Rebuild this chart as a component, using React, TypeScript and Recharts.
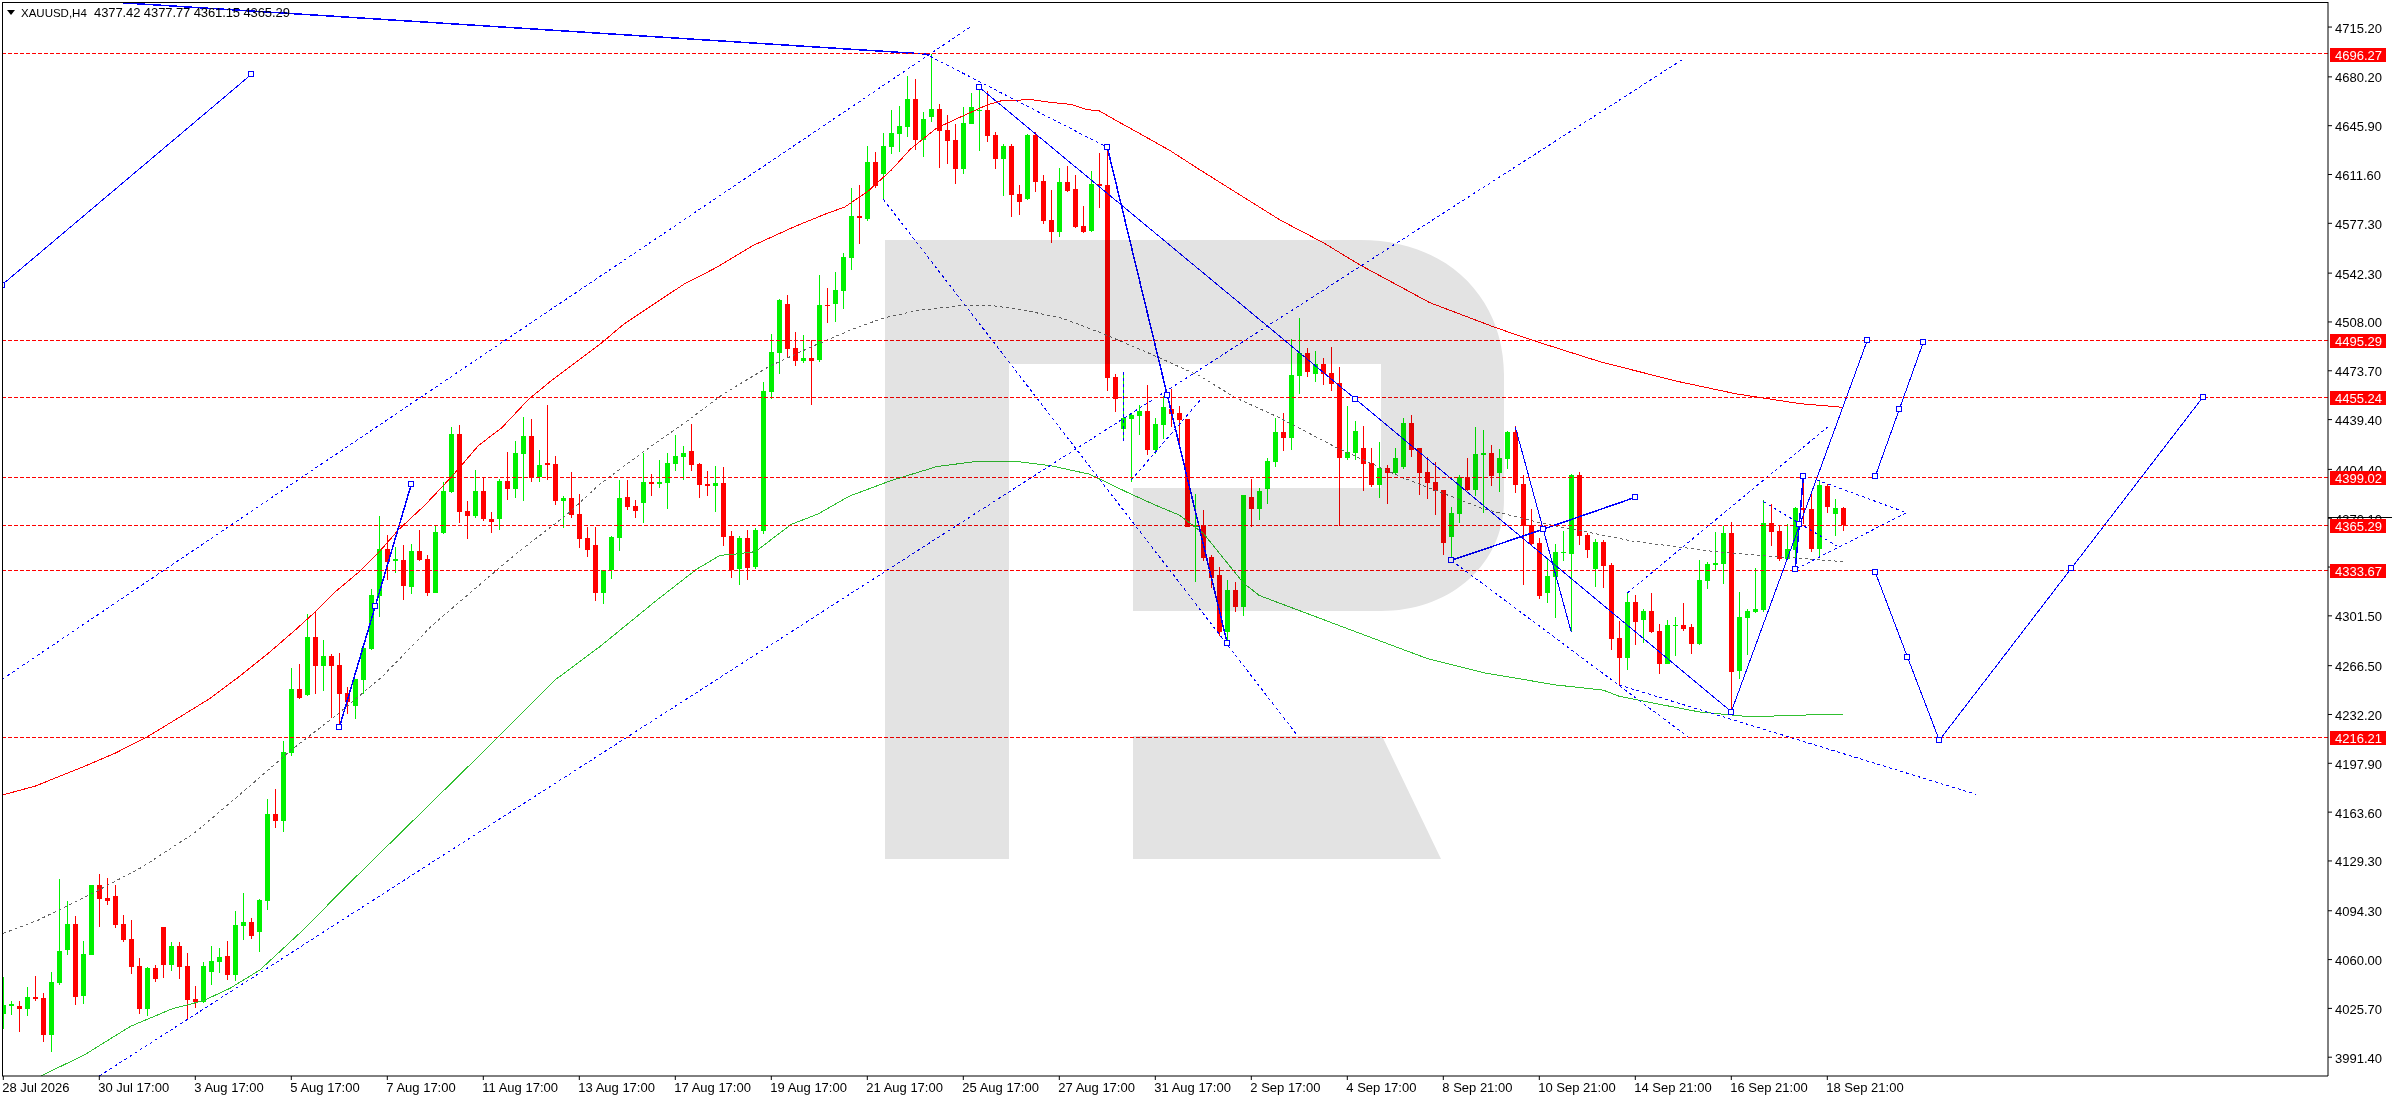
import React from "react";
import { ComposedChart, Bar, Line, XAxis, YAxis, ReferenceLine } from "recharts";

const FONT = "'Liberation Sans', sans-serif";
const BLUE = "#0000ff";
const RED = "#ff0000";
const LIME = "#00f000";

// XAUUSD H4 candles, bar 0 = 28 Jul 2026
const opens = [
  4021.8, 4027.6, 4027.4, 4025.4, 4033.8, 4033.1, 4007.0, 4043.7, 4067.1, 4085.1, 4034.1, 4063.1, 4112.4, 4103.3, 4104.8, 4085.1,
  4074.5, 4055.5, 4025.4, 4054.0, 4082.9, 4056.3, 4069.6, 4055.5, 4032.3, 4030.4, 4051.3, 4058.2, 4062.7, 4049.1, 4083.6, 4086.3,
  4079.4, 4101.1, 4162.2, 4157.3, 4205.1, 4250.2, 4246.2, 4286.7, 4266.2, 4273.3, 4267.0, 4247.2, 4238.1, 4256.4, 4278.3, 4315.5,
  4348.5, 4339.7, 4340.6, 4321.9, 4347.0, 4341.4, 4317.7, 4359.9, 4388.5, 4429.4, 4375.2, 4371.7, 4389.2, 4369.5, 4369.5, 4396.3,
  4390.7, 4415.3, 4427.9, 4398.8, 4408.9, 4408.2, 4382.5, 4384.3, 4373.2, 4356.2, 4351.3, 4317.6, 4333.5, 4356.2, 4385.0, 4378.7,
  4380.8, 4395.6, 4394.1, 4394.9, 4408.2, 4413.1, 4417.3, 4408.2, 4394.2, 4392.7, 4394.9, 4357.6, 4334.2, 4356.2, 4335.6, 4360.9,
  4458.7, 4486.3, 4520.5, 4489.7, 4480.6, 4482.6, 4481.4, 4519.8, 4520.5, 4529.7, 4552.8, 4582.4, 4580.4, 4620.4, 4612.0, 4631.0,
  4640.1, 4645.0, 4664.7, 4635.9, 4651.9, 4657.6, 4642.8, 4635.9, 4615.4, 4647.0, 4655.8, 4656.8, 4639.3, 4622.6, 4631.7, 4597.9,
  4594.5, 4639.3, 4607.0, 4579.4, 4571.3, 4606.3, 4601.4, 4575.5, 4571.6, 4604.8, 4604.3, 4469.6, 4432.8, 4439.8, 4441.9, 4445.4,
  4418.0, 4435.6, 4446.8, 4444.0, 4439.8, 4364.0, 4365.3, 4342.9, 4330.2, 4290.2, 4319.7, 4307.7, 4385.1, 4376.7, 4390.7, 4409.7,
  4430.6, 4426.5, 4470.1, 4486.1, 4471.3, 4478.5, 4472.1, 4465.2, 4412.4, 4415.9, 4419.6, 4409.0, 4393.4, 4405.5, 4401.8, 4406.0,
  4437.1, 4419.6, 4402.6, 4395.7, 4390.0, 4357.0, 4373.0, 4399.1, 4390.0, 4414.6, 4415.9, 4401.8, 4411.7, 4430.6, 4394.2, 4365.6,
  4352.8, 4317.5, 4328.9, 4345.6, 4345.6, 4400.8, 4358.5, 4334.5, 4353.5, 4337.3, 4286.0, 4271.9, 4311.1, 4298.6, 4304.9, 4290.9,
  4267.8, 4294.4, 4295.1, 4293.6, 4281.8, 4326.0, 4337.2, 4337.9, 4359.7, 4262.8, 4300.0, 4304.2, 4305.6, 4366.7, 4361.1, 4341.4,
  4347.8, 4377.3, 4376.6, 4348.5, 4392.7, 4373.1, 4377.42,
];
const highs = [
  4047.9, 4030.6, 4030.6, 4040.7, 4048.6, 4036.5, 4051.3, 4116.6, 4101.1, 4090.5, 4073.0, 4112.6, 4120.1, 4117.4, 4112.4, 4091.2,
  4087.8, 4061.2, 4054.8, 4056.3, 4082.9, 4072.3, 4072.3, 4064.6, 4041.5, 4058.2, 4069.6, 4068.1, 4073.0, 4094.2, 4106.8, 4089.3,
  4102.6, 4172.8, 4180.0, 4213.5, 4265.2, 4267.7, 4302.9, 4304.4, 4284.4, 4274.8, 4275.3, 4251.4, 4257.1, 4279.0, 4320.2, 4371.7,
  4358.4, 4350.0, 4351.0, 4351.7, 4362.1, 4344.0, 4364.8, 4395.3, 4434.3, 4435.5, 4382.3, 4404.0, 4399.1, 4374.4, 4397.8, 4416.3,
  4424.4, 4441.2, 4439.5, 4418.0, 4449.6, 4413.8, 4385.7, 4402.7, 4387.2, 4363.8, 4364.2, 4334.0, 4357.6, 4397.3, 4397.3, 4382.9,
  4416.0, 4401.0, 4411.1, 4416.0, 4428.6, 4420.5, 4436.3, 4408.9, 4403.2, 4406.7, 4406.2, 4361.1, 4357.6, 4361.8, 4363.0, 4465.6,
  4499.6, 4524.2, 4526.9, 4500.8, 4498.8, 4495.6, 4541.0, 4531.9, 4543.2, 4556.3, 4602.1, 4604.3, 4631.7, 4627.5, 4640.8, 4656.8,
  4659.8, 4680.7, 4678.8, 4655.6, 4696.27, 4661.3, 4653.4, 4647.2, 4659.0, 4668.9, 4673.8, 4670.1, 4641.5, 4633.2, 4632.9, 4604.3,
  4640.0, 4641.8, 4611.2, 4600.6, 4616.2, 4617.9, 4611.2, 4589.5, 4613.9, 4626.8, 4630.7, 4471.4, 4472.4, 4443.8, 4449.7, 4463.7,
  4440.5, 4456.0, 4460.9, 4449.0, 4439.8, 4387.1, 4375.9, 4344.3, 4335.8, 4326.7, 4325.3, 4386.1, 4397.9, 4391.0, 4412.4, 4440.5,
  4444.0, 4495.7, 4510.8, 4489.6, 4487.6, 4482.7, 4490.3, 4476.3, 4448.9, 4438.3, 4434.8, 4419.6, 4423.8, 4407.5, 4419.6, 4440.5,
  4442.7, 4419.6, 4413.2, 4409.7, 4390.0, 4377.9, 4400.8, 4412.4, 4434.1, 4432.1, 4421.5, 4418.8, 4431.4, 4434.8, 4400.6, 4376.7,
  4356.2, 4341.7, 4352.0, 4361.2, 4401.3, 4402.6, 4359.7, 4355.5, 4354.7, 4338.7, 4297.8, 4317.5, 4316.0, 4306.4, 4317.5, 4295.6,
  4298.6, 4300.8, 4310.6, 4295.6, 4340.7, 4339.5, 4360.4, 4364.6, 4367.4, 4318.3, 4306.4, 4335.1, 4382.9, 4380.1, 4365.3, 4366.0,
  4378.0, 4397.0, 4387.6, 4397.0, 4394.1, 4383.6, 4377.77,
];
const lows = [
  4011.4, 4021.0, 4009.4, 4020.5, 4031.1, 4002.0, 3995.4, 4042.2, 4063.1, 4028.4, 4029.1, 4062.9, 4082.9, 4098.4, 4081.9, 4072.0,
  4049.8, 4022.0, 4020.3, 4044.4, 4047.1, 4052.3, 4046.4, 4018.5, 4026.2, 4029.6, 4042.2, 4050.6, 4045.7, 4044.9, 4073.7, 4074.5,
  4065.4, 4094.9, 4152.4, 4149.6, 4203.1, 4242.8, 4245.5, 4246.5, 4248.7, 4229.7, 4224.6, 4232.4, 4229.0, 4246.5, 4277.5, 4300.7,
  4326.8, 4331.8, 4312.5, 4317.0, 4340.1, 4315.7, 4317.5, 4359.1, 4387.7, 4367.0, 4355.4, 4370.2, 4368.2, 4359.6, 4362.1, 4383.0,
  4384.3, 4382.5, 4395.8, 4395.8, 4397.3, 4379.3, 4363.3, 4370.2, 4349.0, 4342.9, 4311.6, 4310.0, 4327.6, 4347.3, 4375.9, 4370.3,
  4366.7, 4385.7, 4391.3, 4376.6, 4403.2, 4397.3, 4403.2, 4384.3, 4385.7, 4374.5, 4350.6, 4328.1, 4323.2, 4326.7, 4334.2, 4359.1,
  4453.8, 4471.5, 4483.3, 4477.2, 4479.1, 4449.6, 4479.9, 4507.5, 4508.2, 4517.1, 4544.4, 4562.7, 4578.9, 4602.1, 4594.2, 4626.3,
  4627.5, 4637.8, 4628.7, 4624.1, 4648.4, 4616.2, 4618.9, 4604.6, 4612.0, 4647.0, 4628.2, 4634.4, 4615.4, 4596.7, 4581.7, 4583.1,
  4593.7, 4599.4, 4576.5, 4563.7, 4567.6, 4599.2, 4573.8, 4570.6, 4571.3, 4587.8, 4459.7, 4444.7, 4425.1, 4395.8, 4428.6, 4414.5,
  4415.2, 4425.8, 4434.2, 4421.6, 4364.0, 4325.3, 4340.0, 4321.1, 4287.4, 4283.4, 4304.2, 4301.5, 4363.6, 4369.1, 4380.1, 4405.8,
  4417.4, 4418.1, 4457.3, 4469.6, 4465.9, 4463.7, 4459.5, 4364.9, 4410.9, 4410.9, 4389.3, 4391.9, 4384.3, 4380.1, 4400.8, 4404.8,
  4413.2, 4386.6, 4383.6, 4372.5, 4344.2, 4341.7, 4366.8, 4389.3, 4386.0, 4373.7, 4392.7, 4388.5, 4404.8, 4387.8, 4323.2, 4351.3,
  4313.3, 4310.6, 4300.0, 4339.7, 4290.2, 4351.3, 4342.2, 4321.7, 4321.0, 4277.6, 4252.5, 4263.6, 4281.1, 4282.6, 4289.5, 4260.6,
  4267.8, 4273.4, 4290.9, 4274.7, 4281.1, 4320.5, 4333.8, 4323.9, 4234.2, 4257.2, 4274.0, 4303.5, 4304.2, 4350.6, 4340.0, 4341.0,
  4336.0, 4366.0, 4346.4, 4342.9, 4373.8, 4357.6, 4361.15,
];
const closes = [
  4028.2, 4028.9, 4025.4, 4033.8, 4032.3, 4007.2, 4044.2, 4066.1, 4085.1, 4034.1, 4063.9, 4112.4, 4102.8, 4101.1, 4084.6, 4074.0,
  4055.0, 4025.4, 4054.3, 4046.4, 4056.5, 4069.6, 4055.0, 4031.6, 4030.1, 4055.5, 4059.0, 4061.9, 4049.1, 4084.3, 4086.3, 4076.7,
  4101.8, 4162.2, 4157.3, 4205.8, 4250.2, 4243.8, 4286.7, 4266.2, 4273.3, 4266.2, 4246.5, 4241.1, 4257.1, 4278.8, 4316.2, 4348.5,
  4339.7, 4341.4, 4322.1, 4347.0, 4340.6, 4317.7, 4360.4, 4389.2, 4429.4, 4374.7, 4371.7, 4389.2, 4369.2, 4367.5, 4396.3, 4390.7,
  4416.0, 4427.9, 4398.3, 4407.4, 4407.4, 4382.3, 4384.3, 4372.7, 4355.7, 4348.0, 4317.6, 4333.7, 4356.9, 4384.3, 4378.0, 4375.2,
  4395.6, 4394.1, 4395.6, 4408.9, 4413.8, 4416.0, 4407.4, 4393.7, 4392.7, 4394.9, 4356.9, 4333.5, 4356.2, 4335.1, 4361.8, 4459.4,
  4486.8, 4523.5, 4489.2, 4480.6, 4482.6, 4480.6, 4519.8, 4519.3, 4530.4, 4553.6, 4582.4, 4580.7, 4620.4, 4603.6, 4631.7, 4640.8,
  4645.7, 4664.7, 4635.9, 4650.7, 4657.6, 4642.3, 4635.1, 4615.4, 4647.7, 4659.0, 4656.8, 4638.6, 4622.6, 4631.7, 4597.2, 4592.2,
  4639.3, 4606.3, 4579.0, 4571.3, 4606.3, 4599.9, 4574.5, 4571.6, 4604.8, 4603.6, 4468.9, 4453.9, 4440.5, 4442.6, 4445.4, 4418.0,
  4436.3, 4448.3, 4443.3, 4439.1, 4364.0, 4365.3, 4342.2, 4328.1, 4290.2, 4319.7, 4307.7, 4386.1, 4376.7, 4389.3, 4410.2, 4430.6,
  4426.5, 4470.8, 4486.1, 4472.8, 4478.5, 4471.3, 4464.4, 4412.4, 4416.6, 4431.4, 4408.2, 4393.4, 4405.5, 4401.8, 4412.4, 4437.1,
  4418.1, 4401.8, 4394.9, 4389.3, 4352.8, 4373.7, 4399.1, 4390.0, 4415.1, 4415.9, 4399.9, 4412.4, 4430.6, 4393.4, 4364.9, 4352.0,
  4315.8, 4329.4, 4346.4, 4346.4, 4400.8, 4357.7, 4347.9, 4353.5, 4336.5, 4285.3, 4271.9, 4311.1, 4297.1, 4304.9, 4290.2, 4267.8,
  4295.1, 4295.1, 4292.4, 4281.8, 4326.7, 4337.9, 4338.6, 4359.7, 4262.1, 4300.8, 4304.9, 4306.3, 4366.7, 4360.4, 4341.4, 4348.5,
  4377.3, 4375.9, 4348.5, 4393.4, 4378.0, 4377.3, 4365.29,
];

// price levels on the right scale
const priceLevels = [4696.27, 4495.29, 4455.24, 4399.02, 4365.29, 4333.67, 4216.21];
const priceTicks = [
  4715.2, 4680.2, 4645.9, 4611.6, 4577.3, 4542.3, 4508.0, 4473.7, 4439.4, 4404.4, 4370.1, 4335.8, 4301.5, 4266.5, 4232.2, 4197.9,
  4163.6, 4129.3, 4094.3, 4060.0, 4025.7, 3991.4,
];
const timeLabels = [
  "28 Jul 2026", "30 Jul 17:00", "3 Aug 17:00", "5 Aug 17:00", "7 Aug 17:00", "11 Aug 17:00", "13 Aug 17:00", "17 Aug 17:00",
  "19 Aug 17:00", "21 Aug 17:00", "25 Aug 17:00", "27 Aug 17:00", "31 Aug 17:00", "2 Sep 17:00", "4 Sep 17:00", "8 Sep 21:00",
  "10 Sep 21:00", "14 Sep 21:00", "16 Sep 21:00", "18 Sep 21:00",
];

// moving averages, [bar, price]
const redMa = [
  [0, 4175.8], [4, 4181.9], [10.1, 4195.7], [13.9, 4204.8], [17.8, 4215.9], [21.6, 4228.8], [25.7, 4243], [29.25, 4257.8], [33.1, 4275.1], [36.4, 4291.1],
  [39.3, 4305.9], [41.7, 4319.4], [44.6, 4333], [47.2, 4347.8], [49.4, 4362], [52.7, 4379.3], [56, 4399], [59.4, 4421.2], [62.3, 4433.6], [65.6, 4453.3],
  [68.5, 4466.8], [72.3, 4482.8], [74.6, 4492.4], [77.5, 4506.2], [80.8, 4518.6], [85.1, 4534.6], [88.95, 4545.7], [93.7, 4561.7], [99, 4575.2], [102.8, 4583.9],
  [105.2, 4588.8], [108.1, 4599.9], [111, 4614.7], [113.4, 4629.5], [116.7, 4644.3], [120, 4652.9], [122.9, 4660.3], [124.8, 4663.5], [126.5, 4663.5],
  [128.2, 4664.5], [130.6, 4662.5], [133.5, 4660.8], [135.4, 4657.3], [137, 4656.3], [139.2, 4649.2], [141.6, 4641.8], [145.9, 4628.2], [149.6, 4614.8],
  [154.6, 4597.2], [159.6, 4579.6], [165, 4563.7], [169.6, 4548], [178.3, 4521.6], [186.4, 4504.3], [191.2, 4495], [199.8, 4479.7], [209.4, 4466.1],
  [216.6, 4457.5], [224.6, 4450.6], [230, 4448],
];
const grayMa = [
  [0, 4078.4], [4.4, 4087.8], [10.6, 4105], [17.3, 4124.8], [24, 4149.4], [30.2, 4179], [36, 4207.3], [41.7, 4232], [47.4, 4259], [53.6, 4294.8], [61.8, 4334.2],
  [64.7, 4347.8], [70.4, 4372.4], [74.6, 4394.2], [79.9, 4416.3], [86.1, 4440.9], [89.9, 4457], [95.7, 4476.7], [101.4, 4491.5], [106.2, 4503], [110, 4510.7],
  [114.3, 4516.1], [120, 4519.6], [123.4, 4519.6], [127.2, 4516.8], [132.5, 4510.4], [137.3, 4500.1], [142.5, 4487.8], [149.6, 4470], [153.9, 4455.1],
  [159.2, 4441.5], [166.8, 4419.3], [175, 4398.4], [185, 4376.7], [192.6, 4366.3], [203.7, 4354], [214.7, 4346.1], [223.8, 4342.2], [230, 4339.6],
];
const greenMa = [
  [4.6, 3978], [10.1, 3992.9], [15.9, 4013.1], [21.1, 4025.4], [25, 4031.1], [28.3, 4039.7], [32.1, 4052.8], [37.4, 4080.4], [42.6, 4110], [52.2, 4163], [61.8, 4216],
  [69, 4256.6], [74.6, 4280], [81.7, 4312.6], [86.7, 4334.4], [89.6, 4344], [91.5, 4344.9], [94, 4346.6], [98.5, 4365.8], [101.9, 4373.2], [105.7, 4385.5], [111, 4396.6],
  [116.7, 4406.4], [121.5, 4409.9], [126.8, 4409.9], [131, 4406.9], [135.8, 4401], [140.6, 4388], [144, 4379.3], [147, 4372.3], [150, 4359.5], [155, 4324.7],
  [157, 4315.8], [164, 4301], [171, 4286.2], [178, 4271.5], [185, 4261.6], [194, 4253], [200, 4249.3], [202, 4245], [207, 4239.4], [212, 4234],
  [218, 4230.8], [223, 4231.3], [225, 4231.8], [230, 4232.3],
];

// dotted channels, [bar, price]
const upperChannel = [[-0.16, 4256.9], [120.8, 4715]];
const lowerChannel = [[12, 3978.2], [209.8, 4692]];
const fallChannelA = [[110, 4594.2], [161.8, 4217.2]];
const fallChannelB = [[115.2, 4696.5], [138, 4630.7]];
const miniRise = [[141, 4396.9], [149.8, 4454.3]];
const miniStem = [[140, 4472.8], [140, 4424.3]];
const fallChannelC = [[181, 4340.5], [210.8, 4215.6]];
const fallChannelD = [[202, 4252.9], [246.6, 4176.1]];
const riseChannel = [[203, 4317.6], [228.1, 4434.4]];
const triangleTop = [[220, 4381.8], [229.2, 4350.6]];
const triangleBox = [[226.7, 4397], [237.9, 4374], [224, 4334.2]];

// solid wave drawings, [bar, price]
const firstRay = [[-0.16, 4534.1], [31, 4681.9]];
const topRay = [[15, 4732.2], [115.2, 4696.3]];
const waveA = [[42, 4223.1], [46.5, 4308.4], [51, 4393.9]];
const waveB = [[122, 4672.9], [169, 4453.9], [216, 4234.2]];
const waveC = [[138, 4630.7], [145.5, 4456.5], [153, 4282.2]];
const waveD = [[189, 4434.2], [196, 4290]];
const waveE = [[181, 4340.5], [192.5, 4362.4], [204, 4384.8]];
const waveF = [[216, 4234.2], [233, 4495.1]];
const waveG = [[224, 4334.2], [224.5, 4365.8], [225, 4399.8]];
const forecastUp = [[234, 4399.6], [237, 4446.6], [240, 4493.7]];
const forecastDown = [[234, 4332.1], [238, 4272.8], [242, 4214.1], [258.5, 4334.9], [275, 4455.5]];

const PRICE_DOMAIN = [3978.2, 4732.8];

const candles = closes.map((close, i) => ({
  x: i,
  open: opens[i],
  close,
  high: highs[i],
  low: lows[i],
  range: [lows[i], highs[i]],
}));

const toRows = (pts: number[][]) => pts.map(([x, p]) => ({ x, p }));

const timeTicks = timeLabels.map((_, i) => i * 12);

const CandleShape = (props: any) => {
  const { x, y, width, height, payload } = props;
  const { open, close, high, low } = payload;
  const scale = height / (high - low || 1);
  const top = y + (high - Math.max(open, close)) * scale;
  const bottom = y + (high - Math.min(open, close)) * scale;
  const cx = x + width / 2;
  const fill = close >= open ? LIME : RED;
  return (
    <g shapeRendering="crispEdges">
      <rect x={Math.round(cx - 0.5)} y={y} width={1} height={height} fill={fill} />
      <rect
        x={Math.round(cx - 2.5)}
        y={Math.round(top)}
        width={5}
        height={Math.max(1, Math.round(bottom - top))}
        fill={fill}
      />
    </g>
  );
};

const SquareDot = (props: any) => {
  const { cx, cy } = props;
  return (
    <rect
      key={`${cx}-${cy}`}
      x={Math.round(cx) - 2.5}
      y={Math.round(cy) - 2.5}
      width={5}
      height={5}
      fill="#fff"
      stroke={BLUE}
      strokeWidth={1}
      shapeRendering="crispEdges"
    />
  );
};

const TimeTick = (props: any) => {
  const { x, y, payload } = props;
  return (
    <text x={x - 1} y={y + 10} fontFamily={FONT} fontSize={13} fill="#000" textAnchor="start">
      {timeLabels[payload.value / 12]}
    </text>
  );
};

const PriceTick = (props: any) => {
  const { y, payload } = props;
  return (
    <text x={2335} y={y + 5.5} fontFamily={FONT} fontSize={13} fill="#000">
      {payload.value.toFixed(2)}
    </text>
  );
};

// red price tags, drawn by a second axis so they cover the plain ticks
const LevelTick = (props: any) => {
  const { y, payload } = props;
  const top = Math.round(y);
  return (
    <g>
      <rect x={2330} y={top - 6} width={56} height={14} fill={RED} shapeRendering="crispEdges" />
      {payload.value === 4365.29 && <rect x={2328} y={top - 8} width={64} height={1} fill="#000" shapeRendering="crispEdges" />}
      <text x={2335} y={top + 5.5} fontFamily={FONT} fontSize={13} fill="#fff">
        {payload.value.toFixed(2)}
      </text>
    </g>
  );
};

const dottedLines = [
  upperChannel, lowerChannel, fallChannelA, fallChannelB, miniRise, miniStem, fallChannelC, fallChannelD, riseChannel, triangleTop, triangleBox,
];
const thinWaves = [firstRay, waveB, waveD, waveF, forecastUp, forecastDown];
const heavyWaves = [topRay, waveA, waveC, waveE, waveG];
const noSquares = [topRay, waveD];

export default function App() {
  return (
    <div style={{ position: "absolute", left: 0, top: 0, width: 2392, height: 1100, background: "#fff", overflow: "hidden" }}>
      <ComposedChart
        width={2392}
        height={1100}
        data={candles}
        margin={{ top: 2, right: 0, bottom: 0, left: 2 }}
        barSize={5}
      >
        <XAxis
          type="number"
          dataKey="x"
          domain={[-0.1625, 290.5875]}
          allowDataOverflow
          ticks={timeTicks}
          interval={0}
          tick={<TimeTick />}
          tickSize={4}
          height={24}
          axisLine={{ stroke: "#000" }}
          tickLine={{ stroke: "#000" }}
        />
        <YAxis
          orientation="right"
          domain={PRICE_DOMAIN}
          allowDataOverflow
          ticks={priceTicks}
          interval={0}
          width={63}
          tickSize={4}
          tick={<PriceTick />}
          axisLine={{ stroke: "#000" }}
          tickLine={{ stroke: "#000" }}
        />
        <YAxis
          yAxisId="levels"
          orientation="right"
          domain={PRICE_DOMAIN}
          allowDataOverflow
          ticks={priceLevels}
          interval={0}
          width={1}
          tick={<LevelTick />}
          axisLine={false}
          tickLine={false}
        />
        <Bar dataKey="range" shape={<CandleShape />} isAnimationActive={false} />
        <Line data={toRows(redMa)} dataKey="p" stroke={RED} strokeWidth={1} shapeRendering="crispEdges" dot={false} isAnimationActive={false} />
        <Line data={toRows(greenMa)} dataKey="p" stroke="#30c030" strokeWidth={1} shapeRendering="crispEdges" dot={false} isAnimationActive={false} />
        <Line data={toRows(grayMa)} dataKey="p" stroke="#666666" strokeWidth={1} strokeDasharray="3 3" shapeRendering="crispEdges" dot={false} isAnimationActive={false} />
        {dottedLines.map((pts, i) => (
          <Line key={`dot${i}`} data={toRows(pts)} dataKey="p" stroke={BLUE} strokeWidth={1} strokeDasharray="3 3" shapeRendering="crispEdges" dot={false} isAnimationActive={false} />
        ))}
        {thinWaves.map((pts, i) => (
          <Line
            key={`thin${i}`}
            data={toRows(pts)}
            dataKey="p"
            stroke={BLUE}
            strokeWidth={1}
            shapeRendering="crispEdges"
            dot={noSquares.includes(pts) ? false : <SquareDot />}
            isAnimationActive={false}
          />
        ))}
        {heavyWaves.map((pts, i) => (
          <Line
            key={`heavy${i}`}
            data={toRows(pts)}
            dataKey="p"
            stroke={BLUE}
            strokeWidth={1.5}
            shapeRendering="crispEdges"
            dot={noSquares.includes(pts) ? false : <SquareDot />}
            isAnimationActive={false}
          />
        ))}
        {priceLevels.map((level) => (
          <ReferenceLine key={level} y={level} stroke={RED} strokeWidth={1} strokeDasharray="4 2" shapeRendering="crispEdges" />
        ))}
      </ComposedChart>
      {/* frame on the top and left of the plot */}
      <div style={{ position: "absolute", left: 2, top: 2, width: 2326, height: 1074, borderTop: "1px solid #000", borderLeft: "1px solid #000", boxSizing: "border-box", pointerEvents: "none" }} />
      {/* logo sits over the chart and darkens what it covers */}
      <svg width={2392} height={1100} style={{ position: "absolute", left: 0, top: 0, mixBlendMode: "multiply", pointerEvents: "none" }}>
        <path
          fill="#e3e3e3"
          d="M885 240 H1360 C1450 240 1504 300 1504 375 V500 C1504 565 1450 611 1381 611 H1133 V488 H1381 V364 H1009 V859 H885 Z M1133 736 H1382 L1441 859 H1133 Z"
        />
      </svg>
      <div style={{ position: "absolute", left: 7, top: 10, width: 0, height: 0, borderLeft: "4px solid transparent", borderRight: "4px solid transparent", borderTop: "5px solid #000" }} />
      <div style={{ position: "absolute", left: 21, top: 5, fontFamily: FONT, fontSize: 13, whiteSpace: "pre", color: "#000" }}>
        <span style={{ fontSize: 11.5 }}>XAUUSD,H4</span>  <span style={{ letterSpacing: -0.1 }}>4377.42 4377.77 4361.15 4365.29</span>
      </div>
    </div>
  );
}
